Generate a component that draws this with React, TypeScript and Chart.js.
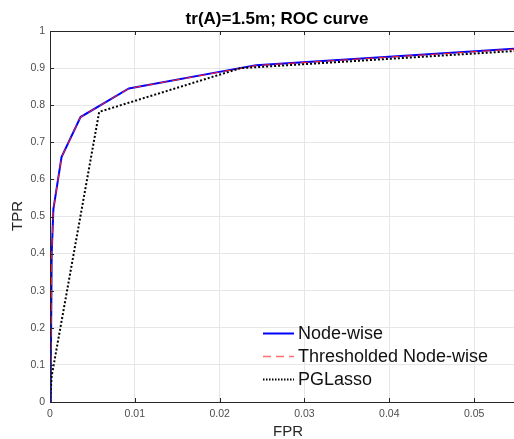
import React, { useEffect, useRef } from "react";
import { Chart, registerables } from "chart.js";

Chart.register(...registerables);

const nodeFpr = [0, 0.0001, 0.0002, 0.0004, 0.00136, 0.0036, 0.0093, 0.0243, 0.0547];
const nodeTpr = [0, 0.1, 0.4, 0.52, 0.66, 0.768, 0.845, 0.908, 0.952];
const thrFpr = [0, 0.0001, 0.0002, 0.0004, 0.00136, 0.0036, 0.0093, 0.0243, 0.0547];
const thrTpr = [0, 0.1, 0.4, 0.52, 0.66, 0.768, 0.845, 0.907, 0.951];
const pgFpr = [0, 0.0002, 0.0058, 0.0225, 0.0547];
const pgTpr = [0, 0.07, 0.782, 0.9, 0.946];
const xTicks = [0, 0.01, 0.02, 0.03, 0.04, 0.05];
const yTicks = [0, 0.1, 0.2, 0.3, 0.4, 0.5, 0.6, 0.7, 0.8, 0.9, 1];
const seriesNames = ["Node-wise", "Thresholded Node-wise", "PGLasso"];
const titleText = "tr(A)=1.5m; ROC curve";
const xLabel = "FPR";
const yLabel = "TPR";

const FONT = "'Liberation Sans', Arial, Helvetica, sans-serif";

const toPts = (xs: number[], ys: number[]) => xs.map((x, i) => ({ x, y: ys[i] }));

const legendColors = ["#0000ff", "#ff7070", "#000000"];
const legendDash = [[], [8, 5], [1.5, 1.5]];

const decorPlugin = {
  id: "decor",
  afterDatasetsDraw(chart: any) {
    const { ctx, chartArea } = chart;
    const { left, right, top, bottom } = chartArea;
    const xs = chart.scales.x;
    const ys = chart.scales.y;
    ctx.save();
    ctx.strokeStyle = "#262626";
    ctx.lineWidth = 1;
    ctx.beginPath();
    ctx.moveTo(left, top + 0.5);
    ctx.lineTo(right, top + 0.5);
    ctx.moveTo(left + 0.5, top);
    ctx.lineTo(left + 0.5, bottom);
    ctx.moveTo(left, bottom + 0.5);
    ctx.lineTo(right, bottom + 0.5);
    ctx.stroke();
    ctx.beginPath();
    xTicks.forEach((v) => {
      const px = Math.round(xs.getPixelForValue(v)) + 0.5;
      ctx.moveTo(px, bottom);
      ctx.lineTo(px, bottom - 4);
      ctx.moveTo(px, top);
      ctx.lineTo(px, top + 4);
    });
    yTicks.forEach((v) => {
      const py = Math.round(ys.getPixelForValue(v)) + 0.5;
      ctx.moveTo(left, py);
      ctx.lineTo(left + 4, py);
    });
    ctx.stroke();
    ctx.fillStyle = "#000";
    ctx.font = `bold 17px ${FONT}`;
    ctx.textAlign = "center";
    ctx.textBaseline = "alphabetic";
    ctx.fillText(titleText, 277, 24);
    ctx.fillStyle = "#262626";
    ctx.font = `15px ${FONT}`;
    ctx.textBaseline = "middle";
    ctx.fillText(xLabel, 288, 432);
    ctx.save();
    ctx.translate(18, 216);
    ctx.rotate(-Math.PI / 2);
    ctx.fillText(yLabel, 0, 0);
    ctx.restore();
    const rows = [333.5, 356.5, 379.5];
    chart.data.datasets.forEach((ds: any, i: number) => {
      const y = rows[i];
      ctx.save();
      ctx.strokeStyle = legendColors[i];
      ctx.lineWidth = i === 1 ? 1.5 : 2;
      ctx.setLineDash(legendDash[i]);
      ctx.beginPath();
      ctx.moveTo(263, y);
      ctx.lineTo(294, y);
      ctx.stroke();
      ctx.restore();
      ctx.fillStyle = "#111";
      ctx.font = `18px ${FONT}`;
      ctx.textAlign = "left";
      ctx.textBaseline = "middle";
      ctx.fillText(seriesNames[i], 298, y + 1);
    });
    ctx.restore();
  },
};

export default function App() {
  const ref = useRef<HTMLCanvasElement>(null);
  useEffect(() => {
    if (!ref.current) return;
    const chart = new Chart(ref.current, {
      type: "line",
      data: {
        datasets: [
          {
            label: seriesNames[0],
            data: toPts(nodeFpr, nodeTpr),
            borderColor: "#0000ff",
            borderWidth: 2,
            pointRadius: 0,
            fill: false,
            order: 3,
          },
          {
            label: seriesNames[1],
            data: toPts(thrFpr, thrTpr),
            borderColor: "#ff2020",
            borderWidth: 1,
            borderDash: [8, 5],
            pointRadius: 0,
            fill: false,
            order: 2,
          },
          {
            label: seriesNames[2],
            data: toPts(pgFpr, pgTpr),
            borderColor: "#000000",
            borderWidth: 2,
            borderDash: [2, 2],
            pointRadius: 0,
            fill: false,
            order: 1,
          },
        ],
      },
      options: {
        animation: false,
        responsive: false,
        parsing: false as any,
        layout: { padding: { top: 31, right: 0, left: 0, bottom: 0 } },
        plugins: { legend: { display: false }, title: { display: false }, tooltip: { enabled: false } },
        scales: {
          x: {
            type: "linear",
            min: 0,
            max: 0.0547,
            afterFit: (s: any) => { s.height = 37; },
            afterBuildTicks: (s: any) => { s.ticks = xTicks.map((v) => ({ value: v })); },
            border: { display: false },
            grid: { color: "#e6e6e6", drawTicks: false, lineWidth: 1 },
            ticks: {
              padding: 6,
              color: "#4d4d4d",
              font: { family: FONT, size: 10.5 },
              callback: (v: any) => String(Math.round(Number(v) * 100) / 100),
            },
          },
          y: {
            type: "linear",
            min: 0,
            max: 1,
            afterFit: (s: any) => { s.width = 50; },
            afterBuildTicks: (s: any) => { s.ticks = yTicks.map((v) => ({ value: v })); },
            border: { display: false },
            grid: { color: "#e6e6e6", drawTicks: false, lineWidth: 1 },
            ticks: {
              padding: 5,
              color: "#4d4d4d",
              font: { family: FONT, size: 10.5 },
              callback: (v: any) => String(Math.round(Number(v) * 10) / 10),
            },
          },
        },
      },
      plugins: [decorPlugin],
    });
    return () => chart.destroy();
  }, []);
  return (
    <div style={{ position: "fixed", left: 0, top: 0, width: 514, height: 439, background: "#fff" }}>
      <canvas ref={ref} width={514} height={439} style={{ width: 514, height: 439, display: "block" }} />
    </div>
  );
}
